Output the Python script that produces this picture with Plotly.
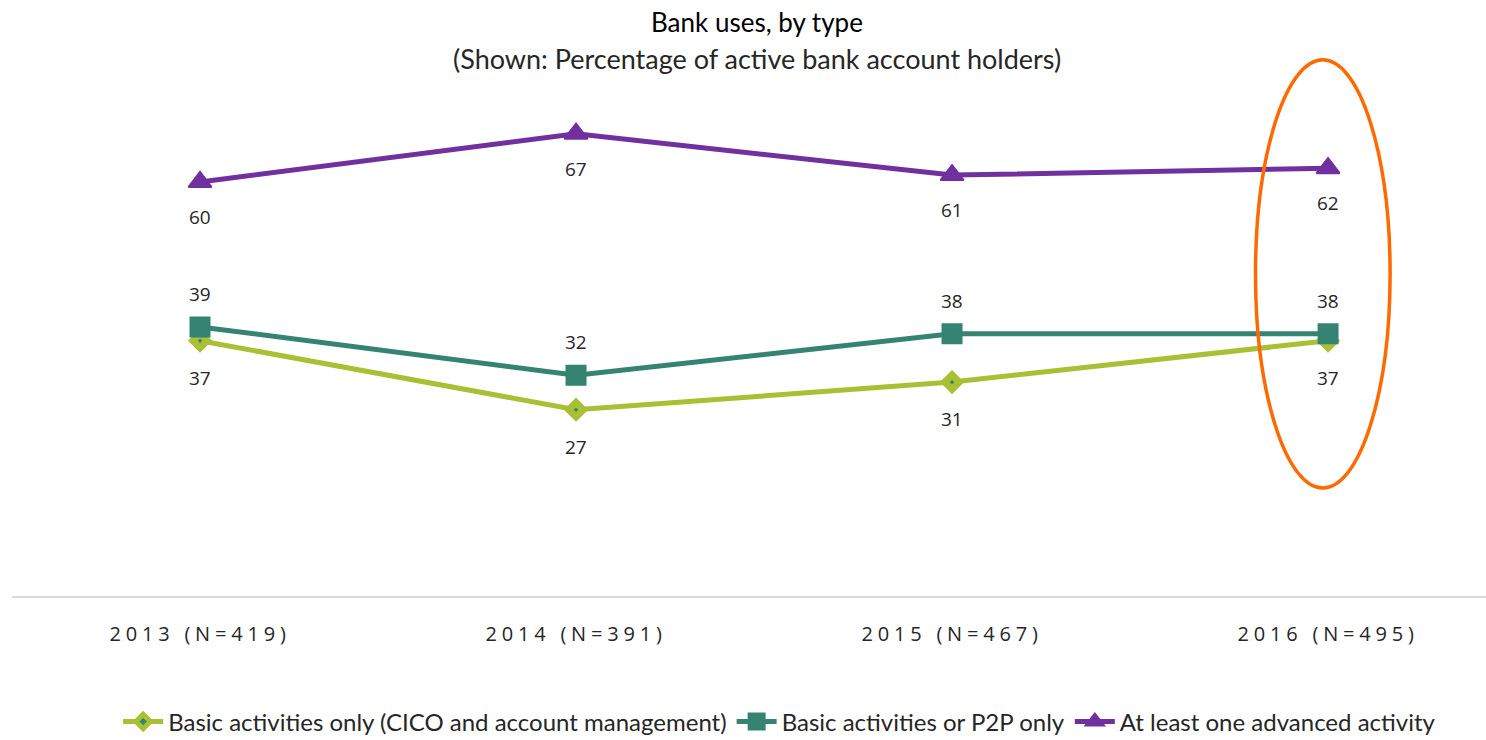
import plotly.graph_objects as go

# Survey waves and the share of active bank account holders per usage type
years = ["2013 (N=419)", "2014 (N=391)", "2015 (N=467)", "2016 (N=495)"]
basic_only = [37, 27, 31, 37]
basic_or_p2p = [39, 32, 38, 38]
advanced = [60, 67, 61, 62]

GREEN = "#A9BF34"
TEAL = "#358373"
PURPLE = "#7030A0"
LABEL_FONT = dict(family="Open Sans", size=19, color="#262626")

fig = go.Figure()

fig.add_trace(go.Scatter(
    x=years, y=basic_only, mode="lines+markers",
    name="Basic activities only (CICO and account management)",
    line=dict(color=GREEN, width=5),
    marker=dict(symbol="diamond", size=11, color=TEAL,
                line=dict(color=GREEN, width=7)),
))
fig.add_trace(go.Scatter(
    x=years, y=basic_or_p2p, mode="lines+markers",
    name="Basic activities or P2P only",
    line=dict(color=TEAL, width=5),
    marker=dict(symbol="square", size=19, color=TEAL,
                line=dict(color=TEAL, width=2)),
))
fig.add_trace(go.Scatter(
    x=years, y=advanced, mode="lines+markers",
    name="At least one advanced activity",
    line=dict(color=PURPLE, width=5),
    marker=dict(symbol="triangle-up", size=20, color=PURPLE,
                line=dict(color=PURPLE, width=2)),
))

# Value labels: purple and green below their points, teal above
annotations = []
for series, shift in ((advanced, -35), (basic_or_p2p, 33), (basic_only, -37)):
    for cat, val in zip(years, series):
        annotations.append(dict(
            x=cat, y=val, text=str(val), showarrow=False,
            yshift=shift, font=LABEL_FONT,
        ))

annotations.append(dict(
    xref="paper", yref="paper", x=0.5054, y=1.0324, yanchor="middle",
    text="Bank uses, by type", showarrow=False,
    font=dict(family="Lato", size=26, color="#000000"),
))
annotations.append(dict(
    xref="paper", yref="paper", x=0.5054, y=0.9676, yanchor="middle",
    text="(Shown: Percentage of active bank account holders)", showarrow=False,
    font=dict(family="Lato", size=27, color="#262626"),
))

# Highlight ellipse around the latest wave
shapes = [dict(
    type="circle", xref="x", yref="y",
    x0=2.807, x1=3.165, y0=15.65, y1=77.7,
    line=dict(color="#FF6A00", width=3.5),
)]

fig.update_layout(
    width=1486, height=740,
    margin=dict(l=12, r=0, t=40, b=144, autoexpand=False),
    paper_bgcolor="white", plot_bgcolor="white",
    showlegend=True,
    legend=dict(
        orientation="h", xref="paper", yref="paper",
        x=0.072, y=-0.186, xanchor="left", yanchor="top",
        font=dict(family="Lato", size=24, color="#262626"),
        itemwidth=40, tracegroupgap=0,
        bgcolor="rgba(0,0,0,0)",
    ),
    annotations=annotations,
    shapes=shapes,
    xaxis=dict(
        type="category", range=[-0.5, 3.42],
        showgrid=False, zeroline=False,
        showline=True, linecolor="#D9D9D9", linewidth=2,
        ticks="", ticklabelstandoff=19,
        tickfont=dict(family="Open Sans", size=20, color="#262626"),
        fixedrange=True,
    ),
    yaxis=dict(
        range=[0, 80.58], visible=False, showgrid=False, zeroline=False,
        fixedrange=True,
    ),
)

post_script = (
    "document.querySelectorAll('.xtick text').forEach(function(t){"
    "t.style.letterSpacing='4.8px';});"
)

fig.write_html("out.html", post_script=post_script,
               config={"displayModeBar": False})
